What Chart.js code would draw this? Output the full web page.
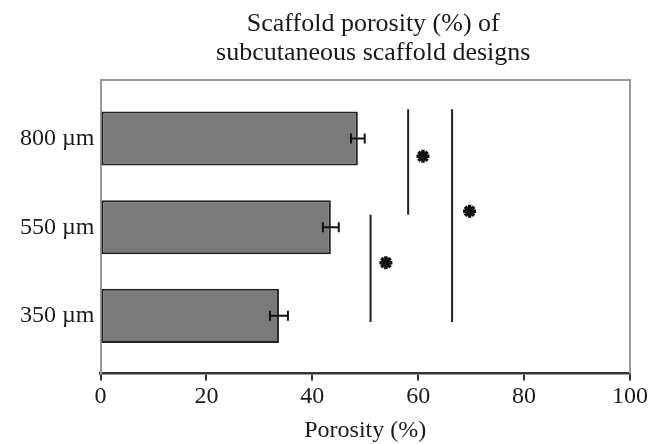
<!DOCTYPE html>
<html><head><meta charset="utf-8">
<script src="https://cdn.jsdelivr.net/npm/chart.js@4.4.1/dist/chart.umd.min.js"></script>
<style>html,body{margin:0;padding:0;background:#fff}#wrap{width:662px;height:444px}</style>
</head><body><div id="wrap"><canvas id="c"></canvas></div>
<script>
// ---- data ----
const categories = ["350 µm", "550 µm", "800 µm"];
const porosity = [33.7, 43.5, 48.6];
const porositySD = [1.7, 1.5, 1.3];
const xTicks = [0, 20, 40, 60, 80, 100];
// significance lines (x value, extent along category axis; categories at 1,2,3)
const sigLineX = [51.0, 58.1, 66.4];
const sigLineFrom = [0.93, 2.14, 0.93];
const sigLineTo = [2.14, 3.33, 3.33];
// significance stars
const starX = [53.9, 60.9, 69.7];
const starY = [1.60, 2.80, 2.18];

const FONT = 'Liberation Serif, Times New Roman, serif';
const INK = '#1a1a1a';

const barData = categories.map((c, i) => ({ x: porosity[i], y: i + 1 }));
const lineSets = sigLineX.map((v, i) => ({
  type: 'scatter', showLine: true, xAxisID: 'x', yAxisID: 'y',
  data: [{ x: v, y: sigLineFrom[i] }, { x: v, y: sigLineTo[i] }],
  borderColor: '#222', borderWidth: 2, pointRadius: 0, fill: false
}));
const starSet = {
  type: 'scatter', xAxisID: 'x', yAxisID: 'y',
  data: starX.map((v, i) => ({ x: v, y: starY[i] })),
  pointStyle: 'star', pointRadius: 6.5, borderWidth: 3.5,
  borderColor: '#111', backgroundColor: '#111'
};

const errorBars = {
  id: 'errorBars',
  afterDatasetsDraw(chart) {
    const { ctx, scales: { x, y } } = chart;
    ctx.save();
    ctx.strokeStyle = '#111'; ctx.lineWidth = 2;
    porosity.forEach((v, i) => {
      const yy = y.getPixelForValue(i + 1);
      const x1 = x.getPixelForValue(v - porositySD[i]);
      const x2 = x.getPixelForValue(v + porositySD[i]);
      ctx.beginPath();
      ctx.moveTo(x1, yy); ctx.lineTo(x2, yy);
      ctx.moveTo(x1, yy - 5); ctx.lineTo(x1, yy + 5);
      ctx.moveTo(x2, yy - 5); ctx.lineTo(x2, yy + 5);
      ctx.stroke();
    });
    ctx.restore();
  }
};
const frame = {
  id: 'frame',
  beforeDatasetsDraw(chart) {
    const { ctx, chartArea: a } = chart;
    ctx.save();
    ctx.strokeStyle = '#9a9a9a'; ctx.lineWidth = 2;
    ctx.beginPath();
    ctx.moveTo(a.left, a.top); ctx.lineTo(a.right, a.top); ctx.lineTo(a.right, a.bottom);
    ctx.stroke();
    ctx.restore();
  },
  afterLayout(chart) {
    const t = chart.titleBlock;
    if (t) { t.left += 8; t.right += 8; }
  }
};

new Chart(document.getElementById('c'), {
  type: 'bar',
  data: {
    datasets: [
      {
        type: 'bar', xAxisID: 'x', yAxisID: 'y', data: barData,
        backgroundColor: '#7a7a7a', borderColor: '#222', borderWidth: 2,
        borderSkipped: false, categoryPercentage: 1, barPercentage: 0.61
      },
      ...lineSets,
      starSet
    ]
  },
  options: {
    indexAxis: 'y',
    responsive: true, maintainAspectRatio: false, animation: false,
    layout: { padding: { left: 0, right: 32, top: 0, bottom: 0 } },
    plugins: {
      legend: { display: false },
      tooltip: { enabled: false },
      title: {
        display: true, fullSize: false,
        text: ['Scaffold porosity (%) of', 'subcutaneous scaffold designs'],
        font: { family: FONT, size: 26, weight: 'normal', lineHeight: 1.12 },
        color: INK, padding: { top: 9.6, bottom: 12.2 }
      }
    },
    scales: {
      x: {
        type: 'linear', min: 0, max: 100, offset: false,
        afterBuildTicks: s => { s.ticks = xTicks.map(v => ({ value: v })); },
        ticks: { color: INK, font: { family: FONT, size: 24 }, padding: 2, maxRotation: 0 },
        grid: { drawOnChartArea: false, drawTicks: true, tickLength: 7, color: '#333', lineWidth: 2, offset: false },
        border: { color: '#333', width: 2.5 },
        title: {
          display: true, text: 'Porosity (%)', color: INK,
          font: { family: FONT, size: 24, lineHeight: 1 }, padding: { top: 0, bottom: 1 }
        },
        afterFit: s => { s.height = 70.5; }
      },
      y: {
        type: 'linear', min: 0.35, max: 3.66, offset: false, bounds: 'data', grace: 0,
        afterBuildTicks: s => { s.ticks = categories.map((c, i) => ({ value: i + 1 })); },
        ticks: {
          autoSkip: false, padding: 6, color: INK, font: { family: FONT, size: 24 },
          callback: v => categories[Math.round(v) - 1] ?? ''
        },
        grid: { display: false, drawTicks: false, offset: false },
        border: { display: true, color: '#9a9a9a', width: 2 },
        afterFit: s => { s.width = 100.5; }
      }
    }
  },
  plugins: [errorBars, frame]
});
</script>
</body></html>
